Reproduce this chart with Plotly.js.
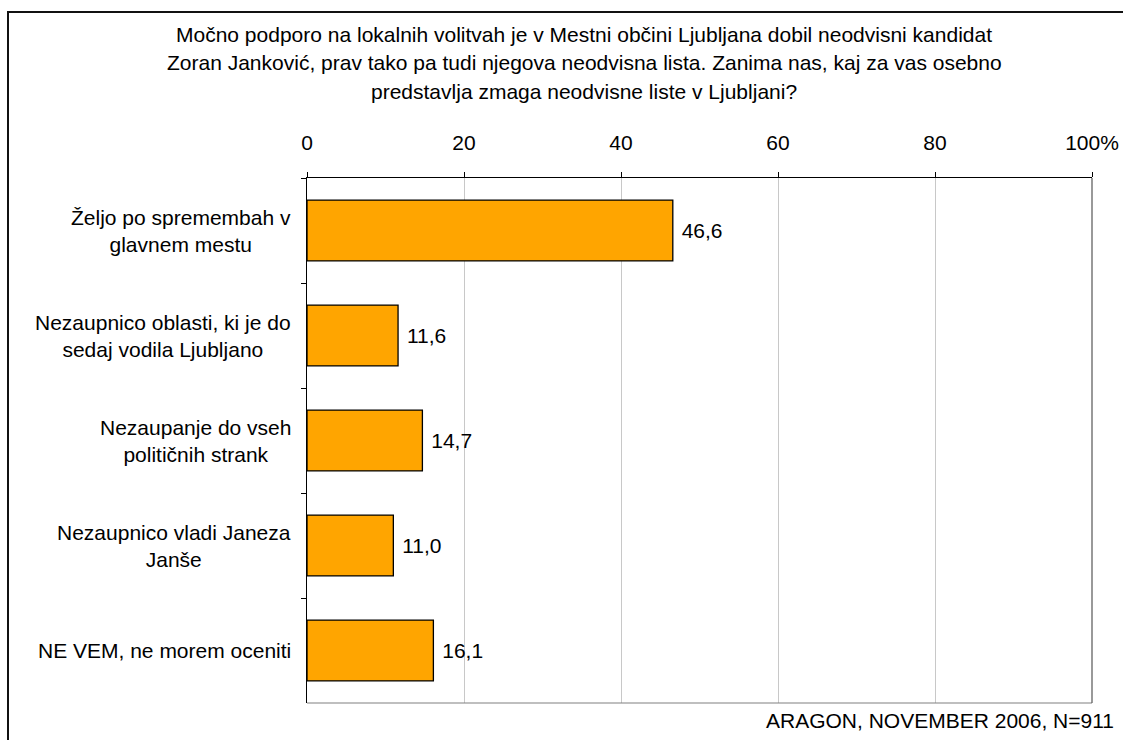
<!DOCTYPE html>
<html>
<head>
<meta charset="utf-8">
<script src="https://cdn.plot.ly/plotly-3.0.1.min.js"></script>
<style>
  html, body { margin: 0; padding: 0; background: #fff; overflow: hidden; }
  #chart { width: 1123px; height: 740px; position: absolute; left: 0; top: 0; }
  #frame { position: absolute; left: 7px; top: 11px; width: 1130px; height: 740px;
           border: 2px solid #111; box-sizing: border-box; pointer-events: none; }
</style>
</head>
<body>
<div id="chart"></div>
<div id="frame"></div>
<script>
const categories = [
  "Željo po spremembah v<br>glavnem mestu",
  "Nezaupnico oblasti, ki je do<br>sedaj vodila Ljubljano",
  "Nezaupanje do vseh<br>političnih strank",
  "Nezaupnico vladi Janeza<br>Janše",
  "NE VEM, ne morem oceniti"
];
const values = [46.6, 11.6, 14.7, 11.0, 16.1];
const tickVals = [0, 20, 40, 60, 80, 100];
const tickText = ["0", "20", "40", "60", "80", "100%"];
const titleLines = [
  "Močno podporo na lokalnih volitvah je v Mestni občini Ljubljana dobil neodvisni kandidat",
  "Zoran Janković, prav tako pa tudi njegova neodvisna lista. Zanima nas, kaj za vas osebno",
  "predstavlja zmaga neodvisne liste v Ljubljani?"
];
const footer = "ARAGON, NOVEMBER 2006, N=911";

const FONT = "Liberation Sans, Arial, sans-serif";
const FS = 21;
const W = 1123, H = 740;
const L = 307, R = 1092, T = 178, B = 703;
const px2x = p => (p - L) / (R - L);
const py2y = p => (B - p) / (B - T);

const labels = values.map(v => "\u00a0" + v.toFixed(1).replace(".", ","));

const trace = {
  type: "bar",
  orientation: "h",
  x: values,
  y: categories,
  text: labels,
  textposition: "outside",
  cliponaxis: false,
  textfont: { family: FONT, size: FS, color: "#000" },
  marker: { color: "#FFA500", line: { color: "#000", width: 1.3 } },
  hoverinfo: "none"
};

const annotations = [];
const titleY = [34, 63, 91];
titleLines.forEach((t, i) => annotations.push({
  text: t, xref: "paper", yref: "paper", x: px2x(584), y: py2y(titleY[i]),
  xanchor: "center", yanchor: "middle", showarrow: false,
  font: { family: FONT, size: FS, color: "#000" }
}));
categories.forEach(c => annotations.push({
  text: c, xref: "paper", yref: "y", x: 0, y: c, xanchor: "right", yanchor: "middle",
  xshift: -14, align: "center", showarrow: false,
  font: { family: FONT, size: FS, color: "#000" }
}));
annotations.push({
  text: footer, xref: "paper", yref: "paper", x: px2x(1116), y: py2y(720),
  xanchor: "right", yanchor: "middle", showarrow: false,
  font: { family: FONT, size: FS, color: "#000" }
});

const layout = {
  width: W, height: H,
  margin: { l: L, r: W - R, t: T, b: H - B, pad: 0 },
  paper_bgcolor: "rgba(0,0,0,0)",
  plot_bgcolor: "rgba(0,0,0,0)",
  showlegend: false,
  bargap: 0.42,
  font: { family: FONT, size: FS, color: "#000" },
  xaxis: {
    side: "top", range: [0, 100], tickvals: tickVals, ticktext: tickText,
    showgrid: true, gridcolor: "#c8c8c8", gridwidth: 1,
    showline: true, linecolor: "#000", linewidth: 1,
    ticks: "outside", ticklen: 5, tickcolor: "#000",
    zeroline: false, fixedrange: true,
    ticklabelstandoff: 14,
    tickfont: { family: FONT, size: FS, color: "#000" }
  },
  yaxis: {
    type: "category", autorange: "reversed",
    showticklabels: false, showgrid: false, zeroline: false,
    showline: true, linecolor: "#000", linewidth: 1,
    ticks: "outside", tickson: "boundaries", ticklen: 5, tickcolor: "#000",
    fixedrange: true
  },
  shapes: [
    { type: "line", xref: "paper", yref: "paper", x0: 0, x1: 1, y0: 0, y1: 0,
      line: { color: "#808080", width: 1.2 } },
    { type: "line", xref: "paper", yref: "paper", x0: 1, x1: 1, y0: 0, y1: 1,
      line: { color: "#555", width: 1.2 } }
  ],
  annotations: annotations
};

Plotly.newPlot("chart", [trace], layout, { displayModeBar: false, staticPlot: true });
</script>
</body>
</html>
